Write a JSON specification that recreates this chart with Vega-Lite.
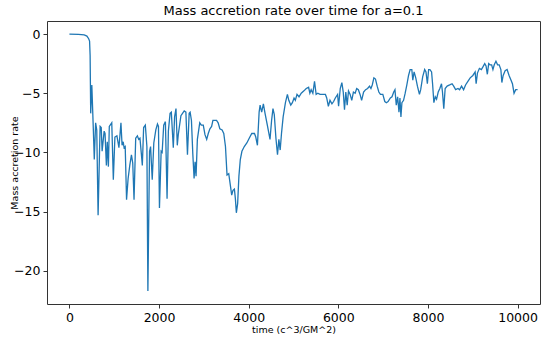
{
  "$schema": "https://vega.github.io/schema/vega-lite/v6.json",
  "width": 493,
  "height": 283,
  "autosize": {"type": "none"},
  "padding": {"left": 47, "top": 21, "right": 3, "bottom": 33},
  "background": "white",
  "title": {"text": "Mass accretion rate over time for a=0.1", "font": "DejaVu Sans", "fontSize": 13, "fontWeight": "normal", "color": "#000", "offset": 3, "anchor": "middle"},
  "config": {
    "view": {"stroke": "#333", "strokeWidth": 1},
    "axis": {"grid": false, "domain": false, "tickColor": "#333", "tickSize": 4, "tickWidth": 1, "labelFont": "DejaVu Sans", "labelFontSize": 12.5, "labelColor": "#000", "titleFont": "DejaVu Sans", "titleFontSize": 9.5, "titleFontWeight": "normal", "titleColor": "#000", "labelPadding": 3}
  },
  "data": {"values": [
    {"t":0,"v":0},{"t":200,"v":-0.03},{"t":330,"v":-0.08},{"t":390,"v":-0.17},{"t":430,"v":-0.4},{"t":450,"v":-0.6},{"t":462,"v":-1.8},
    {"t":475,"v":-6.7},{"t":500,"v":-4.3},{"t":535,"v":-8.2},{"t":555,"v":-10.6},{"t":585,"v":-7.5},{"t":610,"v":-8.1},{"t":640,"v":-15.3},
    {"t":685,"v":-7.8},{"t":710,"v":-7.9},{"t":730,"v":-9.9},{"t":775,"v":-8.2},{"t":795,"v":-8.4},{"t":825,"v":-11.1},{"t":845,"v":-9.1},
    {"t":870,"v":-11.2},{"t":890,"v":-7.8},{"t":945,"v":-7.5},{"t":980,"v":-12.3},{"t":1015,"v":-8.7},{"t":1060,"v":-8.6},{"t":1105,"v":-9.6},
    {"t":1150,"v":-7.5},{"t":1175,"v":-9.4},{"t":1200,"v":-9.1},{"t":1220,"v":-9.6},{"t":1245,"v":-9.5},{"t":1275,"v":-14.0},{"t":1310,"v":-12.2},
    {"t":1347,"v":-11.1},{"t":1384,"v":-10.2},{"t":1413,"v":-10.9},{"t":1442,"v":-14.0},{"t":1479,"v":-8.8},{"t":1517,"v":-8.6},{"t":1546,"v":-8.9},
    {"t":1574,"v":-8.8},{"t":1605,"v":-10.1},{"t":1627,"v":-11.1},{"t":1656,"v":-7.9},{"t":1694,"v":-7.7},{"t":1729,"v":-9.5},{"t":1751,"v":-21.7},
    {"t":1788,"v":-9.9},{"t":1811,"v":-9.5},{"t":1848,"v":-12.3},{"t":1883,"v":-9.2},{"t":1928,"v":-8.1},{"t":1965,"v":-7.6},{"t":1987,"v":-7.8},
    {"t":2009,"v":-14.7},{"t":2047,"v":-9.9},{"t":2069,"v":-10.0},{"t":2104,"v":-7.7},{"t":2142,"v":-7.4},{"t":2179,"v":-13.9},{"t":2208,"v":-8.2},
    {"t":2246,"v":-6.7},{"t":2274,"v":-6.6},{"t":2318,"v":-9.6},{"t":2347,"v":-7.0},{"t":2378,"v":-6.3},{"t":2407,"v":-9.4},{"t":2429,"v":-8.5},
    {"t":2488,"v":-6.9},{"t":2524,"v":-6.7},{"t":2561,"v":-6.5},{"t":2599,"v":-6.6},{"t":2634,"v":-10.2},{"t":2672,"v":-6.7},{"t":2694,"v":-6.6},
    {"t":2723,"v":-7.3},{"t":2753,"v":-10.1},{"t":2782,"v":-12.2},{"t":2804,"v":-10.8},{"t":2826,"v":-12.0},{"t":2855,"v":-8.9},{"t":2908,"v":-7.5},
    {"t":2943,"v":-7.7},{"t":2987,"v":-7.7},{"t":3025,"v":-8.5},{"t":3063,"v":-8.9},{"t":3098,"v":-8.4},{"t":3135,"v":-8.0},{"t":3173,"v":-7.8},
    {"t":3202,"v":-7.3},{"t":3246,"v":-7.3},{"t":3283,"v":-7.3},{"t":3319,"v":-7.5},{"t":3356,"v":-8.0},{"t":3407,"v":-8.1},{"t":3444,"v":-8.4},
    {"t":3482,"v":-9.5},{"t":3517,"v":-11.9},{"t":3555,"v":-11.8},{"t":3592,"v":-12.8},{"t":3621,"v":-13.6},{"t":3650,"v":-13.2},{"t":3681,"v":-13.1},
    {"t":3703,"v":-13.9},{"t":3725,"v":-15.1},{"t":3754,"v":-14.3},{"t":3782,"v":-12.0},{"t":3813,"v":-10.6},{"t":3849,"v":-9.9},{"t":3902,"v":-9.5},
    {"t":3959,"v":-9.2},{"t":4012,"v":-8.8},{"t":4069,"v":-8.4},{"t":4129,"v":-8.4},{"t":4158,"v":-8.7},{"t":4195,"v":-9.4},{"t":4233,"v":-6.6},
    {"t":4255,"v":-6.0},{"t":4290,"v":-6.6},{"t":4328,"v":-5.9},{"t":4365,"v":-6.7},{"t":4416,"v":-7.7},{"t":4476,"v":-8.9},{"t":4511,"v":-7.3},
    {"t":4542,"v":-6.3},{"t":4571,"v":-6.8},{"t":4608,"v":-8.8},{"t":4643,"v":-10.2},{"t":4674,"v":-8.9},{"t":4703,"v":-9.8},{"t":4732,"v":-8.4},
    {"t":4769,"v":-7.0},{"t":4820,"v":-5.8},{"t":4864,"v":-5.1},{"t":4895,"v":-5.6},{"t":4939,"v":-6.0},{"t":4975,"v":-5.8},{"t":5012,"v":-5.4},
    {"t":5041,"v":-5.6},{"t":5078,"v":-5.1},{"t":5123,"v":-5.3},{"t":5173,"v":-5.0},{"t":5233,"v":-4.8},{"t":5284,"v":-4.6},{"t":5337,"v":-4.5},
    {"t":5365,"v":-5.0},{"t":5394,"v":-4.7},{"t":5432,"v":-5.0},{"t":5469,"v":-4.0},{"t":5505,"v":-5.1},{"t":5542,"v":-5.0},{"t":5593,"v":-5.1},
    {"t":5652,"v":-5.1},{"t":5712,"v":-5.1},{"t":5741,"v":-5.4},{"t":5778,"v":-6.1},{"t":5814,"v":-5.6},{"t":5858,"v":-5.9},{"t":5895,"v":-5.7},
    {"t":5933,"v":-5.4},{"t":5984,"v":-5.1},{"t":6006,"v":-6.1},{"t":6043,"v":-4.6},{"t":6079,"v":-4.1},{"t":6110,"v":-4.9},{"t":6138,"v":-6.4},
    {"t":6167,"v":-4.9},{"t":6198,"v":-6.0},{"t":6227,"v":-4.8},{"t":6264,"v":-5.1},{"t":6300,"v":-5.6},{"t":6337,"v":-4.9},{"t":6375,"v":-5.0},
    {"t":6410,"v":-4.6},{"t":6447,"v":-4.7},{"t":6485,"v":-5.1},{"t":6520,"v":-5.6},{"t":6564,"v":-4.9},{"t":6609,"v":-4.7},{"t":6653,"v":-4.6},
    {"t":6697,"v":-4.4},{"t":6728,"v":-4.6},{"t":6757,"v":-4.3},{"t":6794,"v":-3.7},{"t":6829,"v":-3.8},{"t":6867,"v":-4.4},{"t":6904,"v":-4.9},
    {"t":6940,"v":-5.1},{"t":6993,"v":-5.1},{"t":7037,"v":-5.7},{"t":7072,"v":-5.8},{"t":7110,"v":-5.7},{"t":7161,"v":-5.4},{"t":7198,"v":-5.3},
    {"t":7236,"v":-4.9},{"t":7264,"v":-4.7},{"t":7293,"v":-6.0},{"t":7324,"v":-5.3},{"t":7353,"v":-6.6},{"t":7375,"v":-5.4},{"t":7397,"v":-7.0},
    {"t":7419,"v":-5.8},{"t":7456,"v":-5.6},{"t":7492,"v":-5.0},{"t":7529,"v":-4.3},{"t":7567,"v":-3.5},{"t":7602,"v":-3.0},{"t":7640,"v":-3.0},
    {"t":7662,"v":-3.9},{"t":7691,"v":-3.2},{"t":7728,"v":-3.7},{"t":7765,"v":-4.4},{"t":7810,"v":-5.1},{"t":7838,"v":-4.7},{"t":7883,"v":-3.6},
    {"t":7927,"v":-3.0},{"t":7956,"v":-3.2},{"t":7987,"v":-4.2},{"t":8015,"v":-3.0},{"t":8044,"v":-3.0},{"t":8081,"v":-3.2},{"t":8103,"v":-4.2},
    {"t":8132,"v":-5.8},{"t":8163,"v":-5.3},{"t":8192,"v":-5.5},{"t":8229,"v":-4.9},{"t":8265,"v":-4.6},{"t":8302,"v":-4.2},{"t":8324,"v":-4.9},
    {"t":8353,"v":-6.3},{"t":8384,"v":-4.6},{"t":8428,"v":-4.4},{"t":8485,"v":-4.3},{"t":8538,"v":-4.2},{"t":8574,"v":-4.4},{"t":8618,"v":-4.7},
    {"t":8671,"v":-4.6},{"t":8706,"v":-4.7},{"t":8750,"v":-4.4},{"t":8795,"v":-4.7},{"t":8839,"v":-4.3},{"t":8891,"v":-4.0},{"t":8942,"v":-3.7},
    {"t":9002,"v":-3.5},{"t":9053,"v":-3.2},{"t":9075,"v":-4.2},{"t":9104,"v":-3.3},{"t":9148,"v":-2.9},{"t":9192,"v":-3.0},{"t":9223,"v":-2.8},
    {"t":9267,"v":-2.5},{"t":9296,"v":-2.7},{"t":9325,"v":-3.4},{"t":9355,"v":-2.5},{"t":9384,"v":-2.6},{"t":9421,"v":-2.6},{"t":9450,"v":-3.0},
    {"t":9479,"v":-2.6},{"t":9517,"v":-2.3},{"t":9554,"v":-2.6},{"t":9589,"v":-2.6},{"t":9627,"v":-3.0},{"t":9649,"v":-4.1},{"t":9678,"v":-3.5},
    {"t":9722,"v":-3.1},{"t":9766,"v":-3.0},{"t":9810,"v":-3.5},{"t":9854,"v":-3.9},{"t":9885,"v":-4.2},{"t":9921,"v":-5.0},{"t":9958,"v":-4.7},
    {"t":10000,"v":-4.7}
  ]},
  "mark": {"type": "line", "color": "#1f77b4", "strokeWidth": 1.3, "clip": true},
  "encoding": {
    "x": {"field": "t", "type": "quantitative", "title": "time (c^3/GM^2)",
      "scale": {"domain": [-500, 10500], "nice": false, "zero": false},
      "axis": {"values": [0, 2000, 4000, 6000, 8000, 10000], "format": "d", "titlePadding": 1}},
    "y": {"field": "v", "type": "quantitative", "title": "Mass accretion rate",
      "scale": {"domain": [-22.8, 1.1], "nice": false, "zero": false},
      "axis": {"values": [-20, -15, -10, -5, 0], "format": "d", "titleX": -28, "titleY": 141.5, "titleAngle": -90, "titleAlign": "center", "titleBaseline": "bottom"}}
  }
}
